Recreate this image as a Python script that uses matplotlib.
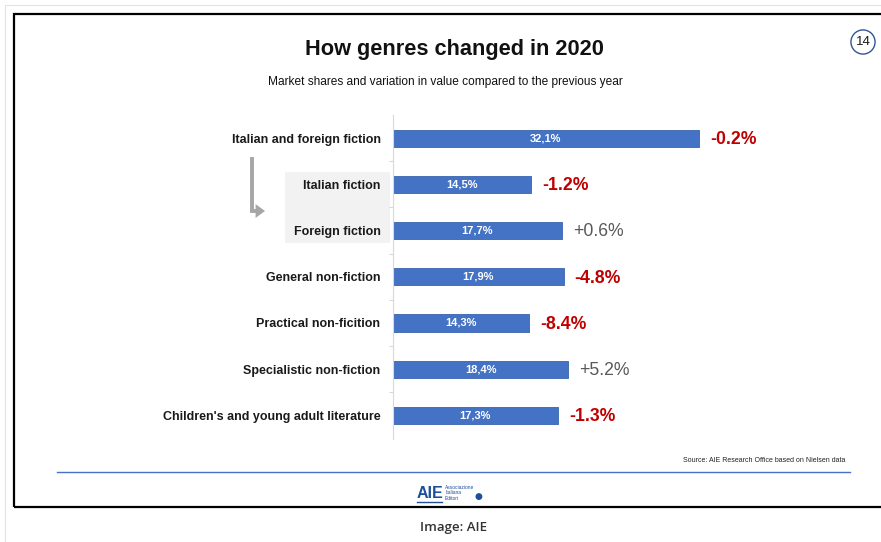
import matplotlib
matplotlib.use("Agg")
import matplotlib.pyplot as plt
from matplotlib.patches import Rectangle, FancyArrowPatch
from matplotlib.lines import Line2D
from matplotlib.path import Path

plt.rcParams['font.family'] = ['Liberation Sans', 'DejaVu Sans']

# data
genres = ['Italian and foreign fiction', 'Italian fiction', 'Foreign fiction',
          'General non-fiction', 'Practical non-ficition', 'Specialistic non-fiction',
          "Children's and young adult literature"]
shares = [32.1, 14.5, 17.7, 17.9, 14.3, 18.4, 17.3]
changes = [-0.2, -1.2, 0.6, -4.8, -8.4, 5.2, -1.3]

W, H = 881, 542
BLUE = '#4472C4'
RED = '#C00000'


def fx(x):
    return x / W


def fy(y):
    return 1 - y / H


fig = plt.figure(figsize=(W / 100, H / 100), dpi=100)

# frames
fig.add_artist(Rectangle((fx(5), fy(545)), 1, (545 - 5) / H, fill=False,
                         ec='#E3E3E3', lw=0.8, transform=fig.transFigure))
fig.add_artist(Rectangle((fx(14), fy(507)), 1, (507 - 14) / H, fill=False,
                         ec='black', lw=1.6, transform=fig.transFigure))

# grey box behind the two sub-genres
fig.add_artist(Rectangle((fx(285), fy(243)), (390 - 285) / W, (243 - 172) / H,
                         fc='#F2F2F2', ec='none', transform=fig.transFigure, zorder=-1))

ax = fig.add_axes([fx(393), fy(438.5), (850 - 393) / W, (438.5 - 115) / H])
ax.patch.set_visible(False)
ypos = list(range(len(genres)))
ax.barh(ypos, shares, height=0.37, color=BLUE, edgecolor='#3A63AD', lw=0.6)
ax.set_xlim(0, 457 / 9.53)
ax.set_ylim(len(genres) - 0.5, -0.5)

for s in ['top', 'right', 'bottom']:
    ax.spines[s].set_visible(False)
ax.spines['left'].set_color('#D9D9D9')
ax.spines['left'].set_linewidth(0.8)
ax.set_xticks([])
ax.set_yticks(ypos)
ax.set_yticklabels(genres, fontsize=9, fontweight='bold', color='#1A1A1A')
ax.tick_params(axis='y', which='major', length=0, pad=9)
ax.set_yticks([i + 0.5 for i in ypos[:-1]], minor=True)
ax.tick_params(axis='y', which='minor', length=3, color='#D9D9D9', width=0.8)

for i, (v, c) in enumerate(zip(shares, changes)):
    ax.text(v / 2, i, f"{v:.1f}".replace('.', ',') + '%', ha='center', va='center',
            color='white', fontsize=8, fontweight='bold')
    if c < 0:
        ax.annotate(f"{c:+.1f}%", (v, i), xytext=(8, -1), textcoords='offset points',
                    ha='left', va='center', fontsize=12.7, fontweight='bold', color=RED)
    else:
        ax.annotate(f"{c:+.1f}%", (v, i), xytext=(8, -1), textcoords='offset points',
                    ha='left', va='center', fontsize=12.7, color='#595959')

# L-shaped arrow from the total to its two parts
lpath = Path([(fx(252), fy(157)), (fx(252), fy(211)), (fx(265), fy(211))],
             [Path.MOVETO, Path.LINETO, Path.LINETO])
fig.add_artist(FancyArrowPatch(path=lpath, arrowstyle='-|>,head_length=3,head_width=2.2',
                               color='#A6A6A6', lw=2.8, joinstyle='miter',
                               capstyle='butt', transform=fig.transFigure))

fig.text(fx(454), fy(49), 'How genres changed in 2020', ha='center', va='center',
         fontsize=15.7, fontweight='bold', color='#111111')
fig.text(fx(445), fy(82), 'Market shares and variation in value compared to the previous year',
         ha='center', va='center', fontsize=8.6, color='#111111')
fig.text(fx(863), fy(42), '14', ha='center', va='center', fontsize=9.5, color='#1A1A1A',
         bbox=dict(boxstyle='circle,pad=0.35', fc='white', ec='#2F5597', lw=1))

fig.text(fx(845), fy(460), 'Source: AIE Research Office based on Nielsen data',
         ha='right', va='center', fontsize=5, color='#222222')
fig.add_artist(Line2D([fx(57), fx(850)], [fy(472), fy(472)], color=BLUE, lw=1))

# logo
fig.text(fx(417), fy(494), 'AIE', ha='left', va='center', fontsize=11.5,
         fontweight='bold', color='#1F4E9A')
fig.add_artist(Line2D([fx(417), fx(442)], [fy(502), fy(502)], color='#1F4E9A', lw=1))
fig.text(fx(445), fy(493), 'Associazione\nItaliana\nEditori', ha='left', va='center',
         fontsize=3.5, color='#1F4E9A', linespacing=1.1)
fig.text(fx(478), fy(497), '\u25CF', ha='center', va='center', fontsize=6.5,
         color='#1F4E9A', family='DejaVu Sans')

fig.text(fx(453), fy(527), 'Image: AIE', ha='center', va='center', fontsize=9.5,
         fontweight='semibold', color='#333333', family=['Open Sans', 'DejaVu Sans'])

fig.savefig('out.png', dpi=100)
